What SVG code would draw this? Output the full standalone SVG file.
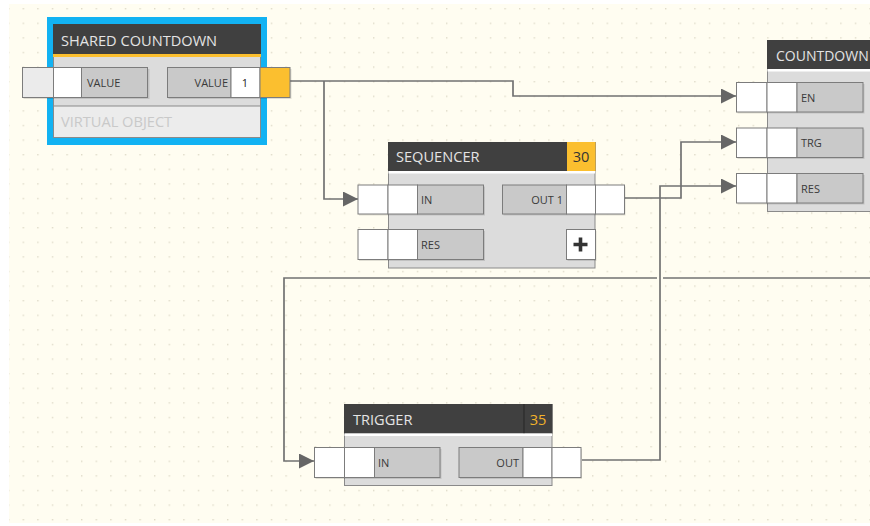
<svg xmlns="http://www.w3.org/2000/svg" width="870" height="526" viewBox="0 0 870 526">
<style>
.hdr{fill:#404040}
.body{fill:#dcdcdc;stroke:#8a8a8a;stroke-width:1}
.pg{fill:#c9c9c9;stroke:#7c7c7c;stroke-width:1}
.pw{fill:#ffffff;stroke:#7c7c7c;stroke-width:1}
.po{fill:#fbbf2f;stroke:#7c7c7c;stroke-width:1}
.pl{fill:#ebebeb;stroke:#7c7c7c;stroke-width:1}
.sh{fill:#000;opacity:0.12}
.title{font-family:"Open Sans","Noto Sans",sans-serif;font-size:14.6px;fill:#e4e4e4}
.lbl{font-family:"Open Sans","Noto Sans",sans-serif;font-size:11px;fill:#3a3a3a}
.wire{fill:none;stroke:#727272;stroke-width:1.7}
</style>
<defs>
<pattern id="dots" x="8" y="8" width="14.6" height="14.6" patternUnits="userSpaceOnUse">
<rect x="0" y="0" width="1.4" height="1.4" fill="#dedac8"/>
</pattern>
<marker id="arr" viewBox="0 0 15 15" refX="15" refY="7.5" markerWidth="15" markerHeight="15" markerUnits="userSpaceOnUse" orient="auto">
<path d="M0,0 L15,7.5 L0,15 z" fill="#666666"/>
</marker>
</defs>
<rect x="0" y="0" width="870" height="526" fill="#ffffff"/>
<rect x="9" y="4" width="861" height="519" fill="#fffdf1"/>
<rect x="9" y="4" width="861" height="519" fill="url(#dots)"/>

<g id="connectors">
<path class="wire" d="M290,81 H513 V96 H736" marker-end="url(#arr)"/>
<path class="wire" d="M324,81 V199 H358" marker-end="url(#arr)"/>
<path class="wire" d="M625,198 H681 V142 H736" marker-end="url(#arr)"/>
<path class="wire" d="M582,460 H660 V186 H736" marker-end="url(#arr)"/>
<path class="wire" d="M870,278 H663"/>
<path class="wire" d="M657,278 H284 V461 H314" marker-end="url(#arr)"/>
</g>

<g id="shared-countdown">
<rect x="47" y="17" width="220" height="128" fill="#12b2f2"/>
<rect class="body" x="53.5" y="24.5" width="207" height="113"/>
<rect class="hdr" x="53" y="24" width="208" height="30"/>
<rect x="53" y="54" width="208" height="3" fill="#fbbf2f"/>
<rect x="53.5" y="106" width="207" height="31.5" fill="#ececec" stroke="#8a8a8a" stroke-width="1"/>
<text class="title" x="61" y="46">SHARED COUNTDOWN</text>
<text class="title" x="61" y="127" style="fill:#c9c9c9">VIRTUAL OBJECT</text>
<rect class="sh" x="23.5" y="69" width="126" height="30"/>
<rect class="pl" x="22.5" y="67.5" width="31" height="30"/>
<rect class="pw" x="53.5" y="67.5" width="28" height="30"/>
<rect class="pg" x="81.5" y="67.5" width="66" height="30"/>
<text class="lbl" x="87" y="86.5">VALUE</text>
<rect class="sh" x="168.5" y="69" width="123" height="30"/>
<rect class="pg" x="167.5" y="67.5" width="63.5" height="30"/>
<rect class="pw" x="231" y="67.5" width="29" height="30"/>
<rect class="po" x="260" y="67.5" width="30" height="30"/>
<text class="lbl" x="228" y="86.5" text-anchor="end">VALUE</text>
<text class="lbl" x="245" y="86.5" text-anchor="middle" style="fill:#222">1</text>
</g>

<g id="sequencer">
<rect class="body" x="388.5" y="142.5" width="206.5" height="125.5"/>
<rect class="hdr" x="388" y="142" width="207.5" height="29"/>
<rect x="567" y="142" width="28.5" height="29" fill="#fbbf2f"/>
<rect x="388.5" y="171" width="206.5" height="2.5" fill="#ffffff"/>
<text class="title" x="396" y="162">SEQUENCER</text>
<text class="title" x="581" y="162" text-anchor="middle" style="fill:#333">30</text>
<rect class="sh" x="359" y="186.5" width="126" height="29"/>
<rect class="pw" x="358" y="185" width="30" height="29"/>
<rect class="pw" x="388" y="185" width="29.5" height="29"/>
<rect class="pg" x="417.5" y="185" width="66" height="29"/>
<text class="lbl" x="421" y="203.5">IN</text>
<rect class="sh" x="359" y="231" width="126" height="30"/>
<rect class="pw" x="358" y="229.5" width="30" height="30"/>
<rect class="pw" x="388" y="229.5" width="29.5" height="30"/>
<rect class="pg" x="417.5" y="229.5" width="66" height="30"/>
<text class="lbl" x="421" y="248.5">RES</text>
<rect class="sh" x="503.5" y="186.5" width="122" height="29"/>
<rect class="pg" x="502.5" y="185" width="64" height="29"/>
<rect class="pw" x="566.5" y="185" width="29" height="29"/>
<rect class="pw" x="595.5" y="185" width="29" height="29"/>
<text class="lbl" x="563" y="203.5" text-anchor="end">OUT 1</text>
<rect class="sh" x="567.5" y="231" width="29" height="30"/>
<rect class="pw" x="566.5" y="229.5" width="29" height="30"/>
<path d="M580.5,237.5 V251.5 M573.5,244.5 H587.5" stroke="#333" stroke-width="3.6" fill="none"/>
</g>

<g id="countdown">
<rect class="body" x="767.5" y="40.5" width="110" height="171"/>
<rect class="hdr" x="767" y="40" width="110" height="29"/>
<rect x="767.5" y="69" width="110" height="2.5" fill="#ffffff"/>
<text class="title" x="776" y="61" style="font-size:14px">COUNTDOWN</text>
<rect class="sh" x="737.5" y="84" width="127" height="29.5"/>
<rect class="pw" x="736.5" y="82.5" width="30.5" height="29.5"/>
<rect class="pw" x="767" y="82.5" width="30" height="29.5"/>
<rect class="pg" x="797" y="82.5" width="66" height="29.5"/>
<text class="lbl" x="801" y="101.5">EN</text>
<rect class="sh" x="737.5" y="129.5" width="127" height="29.5"/>
<rect class="pw" x="736.5" y="128" width="30.5" height="29.5"/>
<rect class="pw" x="767" y="128" width="30" height="29.5"/>
<rect class="pg" x="797" y="128" width="66" height="29.5"/>
<text class="lbl" x="801" y="147">TRG</text>
<rect class="sh" x="737.5" y="175" width="127" height="29.5"/>
<rect class="pw" x="736.5" y="173.5" width="30.5" height="29.5"/>
<rect class="pw" x="767" y="173.5" width="30" height="29.5"/>
<rect class="pg" x="797" y="173.5" width="66" height="29.5"/>
<text class="lbl" x="801" y="192.5">RES</text>
</g>

<g id="trigger">
<rect class="body" x="344.5" y="404.5" width="207.5" height="81"/>
<rect class="hdr" x="344" y="404" width="208.5" height="29.5"/>
<line x1="524" y1="404" x2="524" y2="433.5" stroke="#2a2a2a" stroke-width="1.2"/>
<rect x="344.5" y="433.5" width="207.5" height="2.5" fill="#ffffff"/>
<text class="title" x="353" y="425">TRIGGER</text>
<text class="title" x="538" y="425" text-anchor="middle" style="fill:#f3b32a">35</text>
<rect class="sh" x="315.5" y="449" width="126" height="30"/>
<rect class="pw" x="314.5" y="447.5" width="30" height="30"/>
<rect class="pw" x="344.5" y="447.5" width="30" height="30"/>
<rect class="pg" x="374.5" y="447.5" width="65.5" height="30"/>
<text class="lbl" x="378" y="466.5">IN</text>
<rect class="sh" x="460" y="449" width="122" height="30"/>
<rect class="pg" x="459" y="447.5" width="64" height="30"/>
<rect class="pw" x="523" y="447.5" width="29" height="30"/>
<rect class="pw" x="552" y="447.5" width="29" height="30"/>
<text class="lbl" x="519" y="466.5" text-anchor="end">OUT</text>
</g>
</svg>
